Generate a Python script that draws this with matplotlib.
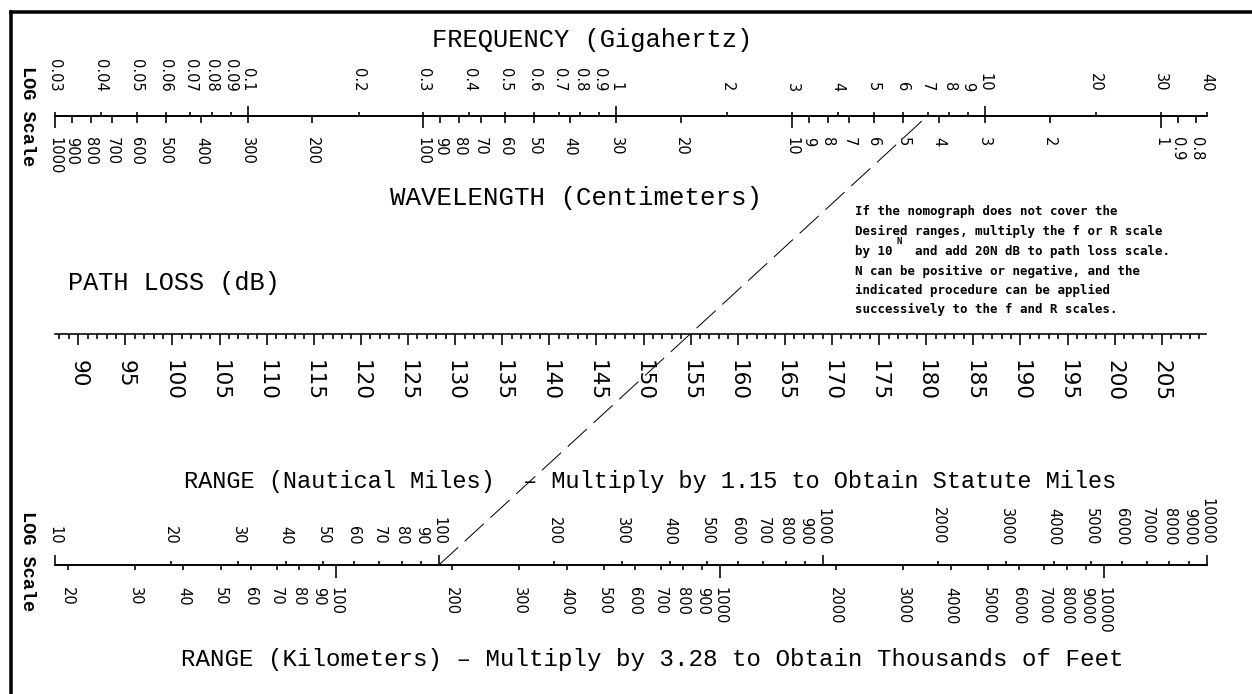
import numpy as np
import matplotlib.pyplot as plt
from matplotlib.lines import Line2D
from matplotlib.ticker import FixedLocator, FuncFormatter, NullFormatter

# frequency scale (GHz) with wavelength (cm) underneath
freq_range = (0.03, 40)
freq_major = [0.1, 1, 10]
freq_minor = [0.03, 0.04, 0.05, 0.06, 0.07, 0.08, 0.09,
              0.2, 0.3, 0.4, 0.5, 0.6, 0.7, 0.8, 0.9,
              2, 3, 4, 5, 6, 7, 8, 9, 20, 30, 40]
wl_major = [1000, 100, 10, 1]
wl_minor = [900, 800, 700, 600, 500, 400, 300, 200,
            90, 80, 70, 60, 50, 40, 30, 20,
            9, 8, 7, 6, 5, 4, 3, 2, 0.9, 0.8]
C_CM_GHZ = 30.0

# free-space path loss (dB)
loss_range = (87.53, 209.7)
loss_major = list(range(90, 210, 5))
loss_minor = list(range(88, 210))

# range in nautical miles with kilometres underneath
nmi_range = (10, 10000)
nmi_major = [10, 100, 1000, 10000]
nmi_minor = [20, 30, 40, 50, 60, 70, 80, 90,
             200, 300, 400, 500, 600, 700, 800, 900,
             2000, 3000, 4000, 5000, 6000, 7000, 8000, 9000]
km_major = [100, 1000, 10000]
km_minor = [20, 30, 40, 50, 60, 70, 80, 90,
            200, 300, 400, 500, 600, 700, 800, 900,
            2000, 3000, 4000, 5000, 6000, 7000, 8000, 9000]
KM_PER_NMI = 1.852

# worked example: 7 GHz over 100 nmi
example_freq = 7
example_range = 100

note_lines = [
    "If the nomograph does not cover the",
    "Desired ranges, multiply the f or R scale",
    "by 10   and add 20N dB to path loss scale.",
    "N can be positive or negative, and the",
    "indicated procedure can be applied",
    "successively to the f and R scales.",
]

W, H, DPI = 1252, 694, 100
PX = 72 / DPI          # points per pixel
LW = 1.6 * PX

plt.rcParams['lines.scale_dashes'] = False

fig = plt.figure(figsize=(W / DPI, H / DPI), dpi=DPI)
fig.patch.set_facecolor('white')


def fxy(x, y):
    return x / W, 1 - y / H


def scale_axes(y, x0, x1):
    ax = fig.add_axes([x0 / W, 1 - y / H, (x1 - x0) / W, 0.02 / H])
    ax.patch.set_visible(False)
    for side in ('left', 'right', 'top'):
        ax.spines[side].set_visible(False)
    ax.spines['bottom'].set_linewidth(LW)
    ax.yaxis.set_visible(False)
    return ax


def ghz_to_cm(f):
    with np.errstate(divide='ignore'):
        return C_CM_GHZ / np.asarray(f, float)


def nmi_to_km(n):
    return np.asarray(n, float) * KM_PER_NMI


def km_to_nmi(k):
    return np.asarray(k, float) / KM_PER_NMI


fmt = FuncFormatter(lambda v, pos: f"{v:g}")


def set_ticks(axis, major, minor, minor_labels=True):
    axis.set_major_locator(FixedLocator(major))
    axis.set_minor_locator(FixedLocator(minor))
    axis.set_major_formatter(fmt)
    axis.set_minor_formatter(fmt if minor_labels else NullFormatter())


def top_side(ax, size, major_len, minor_len, label_gap):
    ax.xaxis.set_ticks_position('top')
    ax.tick_params(axis='x', which='both', top=True, bottom=False,
                   labeltop=True, labelbottom=False, direction='out',
                   width=LW, labelrotation=-90, labelsize=size)
    ax.tick_params(axis='x', which='major', length=major_len * PX,
                   pad=(label_gap - major_len) * PX)
    ax.tick_params(axis='x', which='minor', length=minor_len * PX,
                   pad=(label_gap - minor_len) * PX)


def bottom_side(ax, size, major_len, minor_len, label_gap):
    ax.tick_params(axis='x', which='both', direction='out', width=LW,
                   labelrotation=-90, labelsize=size)
    ax.tick_params(axis='x', which='major', length=major_len * PX,
                   pad=(label_gap - major_len) * PX)
    ax.tick_params(axis='x', which='minor', length=minor_len * PX,
                   pad=(label_gap - minor_len) * PX)


# --- frequency / wavelength
ax_f = scale_axes(115.7, 54.8, 1206.7)
ax_f.set_xscale('log')
ax_f.set_xlim(*freq_range)
ax_w = ax_f.secondary_xaxis('bottom', functions=(ghz_to_cm, ghz_to_cm))
ax_w.spines['bottom'].set_linewidth(LW)
set_ticks(ax_f.xaxis, freq_major, freq_minor)
set_ticks(ax_w.xaxis, wl_major, wl_minor)
top_side(ax_f, 10.5, 10, 4, 24)
bottom_side(ax_w, 10.5, 12, 7, 21)

# --- path loss
ax_l = scale_axes(334, 55, 1206)
ax_l.set_xlim(*loss_range)
set_ticks(ax_l.xaxis, loss_major, loss_minor, minor_labels=False)
bottom_side(ax_l, 15.5, 11, 5, 26)

# --- range nmi / km
ax_r = scale_axes(565, 55, 1206.7)
ax_r.set_xscale('log')
ax_r.set_xlim(*nmi_range)
ax_k = ax_r.secondary_xaxis('bottom', functions=(nmi_to_km, km_to_nmi))
ax_k.spines['bottom'].set_linewidth(LW)
set_ticks(ax_r.xaxis, nmi_major, nmi_minor)
set_ticks(ax_k.xaxis, km_major, km_minor)
top_side(ax_r, 10.5, 10, 4, 20)
bottom_side(ax_k, 10.5, 13, 5, 22)

# --- titles
mono = 'Liberation Mono'
titles = [
    (592.5, 46.5, 'FREQUENCY (Gigahertz)', 18.4),
    (576, 205, 'WAVELENGTH (Centimeters)', 18.6),
    (174, 290, 'PATH LOSS (dB)', 18.2),
    (650, 488, 'RANGE (Nautical Miles)  \u2013 Multiply by 1.15 to Obtain Statute Miles', 17.0),
    (652, 666, 'RANGE (Kilometers) \u2013 Multiply by 3.28 to Obtain Thousands of Feet', 17.35),
]
for x, y, s, size in titles:
    fig.text(*fxy(x, y), s, ha='center', va='baseline', family=mono, fontsize=size)

for y in (116, 561):
    fig.text(*fxy(27, y), 'LOG Scale', rotation=-90, ha='center', va='center',
             family=mono, fontweight='bold', fontsize=13.4)

# --- note
note_size = 9.0
char_w = 0.6 * note_size / PX
note_x = 855
note_y = [211.7, 231.7, 251.7, 271.7, 290.5, 309.0]
for y, s in zip(note_y, note_lines):
    fig.text(*fxy(note_x, y), s, ha='left', va='center', family='DejaVu Sans Mono',
             fontweight='bold', fontsize=note_size)
fig.text(*fxy(note_x + 5.6 * char_w, 241), 'N', ha='left', va='center',
         family='DejaVu Sans Mono', fontweight='bold', fontsize=6.5)

# --- example line across the scales
to_fig = fig.transFigure.inverted()
p_low = to_fig.transform(ax_r.transData.transform((example_range, 0)))
p_high = to_fig.transform(ax_f.transData.transform((example_freq, 0)))
fig.add_artist(Line2D([p_low[0], p_high[0]], [p_low[1], p_high[1]],
                      transform=fig.transFigure, color='black', lw=1.0 * PX,
                      linestyle=(0, (26 * PX, 9 * PX)), dash_capstyle='butt'))

# --- frame
fig.add_artist(Line2D([10.5 / W, 1.0], [1 - 11.5 / H] * 2, transform=fig.transFigure,
                      color='black', lw=3.5 * PX, solid_capstyle='projecting'))
fig.add_artist(Line2D([10.5 / W] * 2, [0.0, 1 - 11.5 / H], transform=fig.transFigure,
                      color='black', lw=3.5 * PX, solid_capstyle='projecting'))

fig.savefig('out.png', dpi=DPI)
